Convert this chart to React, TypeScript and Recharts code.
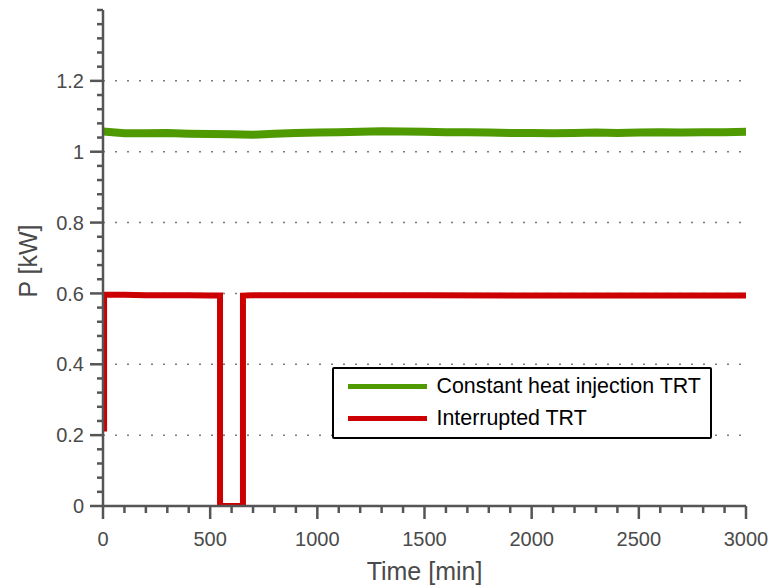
import React from 'react';
import { LineChart, Line, XAxis, YAxis, ReferenceLine, Legend, Label } from 'recharts';

// constant heat injection TRT, sampled every 100 min
const GREEN_TIME = [0, 100, 200, 300, 400, 500, 600, 700, 800, 900, 1000, 1100, 1200, 1300, 1400, 1500,
  1600, 1700, 1800, 1900, 2000, 2100, 2200, 2300, 2400, 2500, 2600, 2700, 2800, 2900, 3000];
const GREEN_P = [1.057, 1.052, 1.052, 1.053, 1.051, 1.05, 1.049, 1.048, 1.051, 1.053, 1.054, 1.055, 1.056,
  1.058, 1.057, 1.056, 1.055, 1.055, 1.054, 1.053, 1.053, 1.052, 1.053, 1.054, 1.053, 1.054, 1.055, 1.054,
  1.055, 1.055, 1.056];

// interrupted TRT, with the heating pause
const RED_TIME = [5, 5, 100, 200, 300, 400, 500, 546, 546, 653, 653, 700, 1000, 1500, 2000, 2500, 3000];
const RED_P = [0.21, 0.596, 0.596, 0.595, 0.595, 0.595, 0.594, 0.594, 0, 0, 0.594, 0.595, 0.595, 0.595,
  0.594, 0.594, 0.594];

const X_LABELS = [0, 500, 1000, 1500, 2000, 2500, 3000];
const Y_LABELS = [0, 0.2, 0.4, 0.6, 0.8, 1, 1.2];
const GRID_Y = [0.2, 0.4, 0.6, 0.8, 1, 1.2];

const SERIES_NAMES = ['Constant heat injection TRT', 'Interrupted TRT'];
const COLORS = ['#4e9a00', '#cc0000'];

const FONT = '"Liberation Sans", Arial, Helvetica, sans-serif';
const AXIS = '#555555';
const TEXT = '#4a4a4a';

const greenData = GREEN_TIME.map((t, i) => ({ t, p: GREEN_P[i] }));
const redData = RED_TIME.map((t, i) => ({ t, p: RED_P[i] }));

// minor ticks: every 100 min on x, every 0.04 kW on y
const X_TICKS: number[] = [];
for (let i = 0; i <= 30; i++) X_TICKS.push(i * 100);
const Y_TICKS: number[] = [];
for (let i = 0; i <= 35; i++) Y_TICKS.push(Math.round(i * 4) / 100);

const isXMajor = (v: number) => X_LABELS.includes(v);
const isYMajor = (v: number) => Y_LABELS.some((l) => Math.abs(l - v) < 1e-6);

const XTick = (props: any) => {
  const { x, y, payload } = props;
  const major = isXMajor(payload.value);
  return (
    <g>
      <line x1={x} x2={x} y1={y} y2={y + (major ? 13 : 7)} stroke={AXIS} strokeWidth={2.5} />
      {major && (
        <text x={x} y={y + 40} textAnchor="middle" fill={TEXT} fontSize={20} fontFamily={FONT}>
          {payload.value}
        </text>
      )}
    </g>
  );
};

const YTick = (props: any) => {
  const { x, y, payload } = props;
  const major = isYMajor(payload.value);
  return (
    <g>
      <line x1={x - (major ? 13 : 6)} x2={x} y1={y} y2={y} stroke={AXIS} strokeWidth={2.5} />
      {major && (
        <text x={x - 19} y={y} dy="0.36em" textAnchor="end" fill={TEXT} fontSize={20} fontFamily={FONT}>
          {String(Math.round(payload.value * 100) / 100)}
        </text>
      )}
    </g>
  );
};

const LegendBox = (props: any) => {
  const { payload } = props;
  return (
    <div
      style={{
        position: 'relative',
        width: 380,
        height: 72,
        boxSizing: 'border-box',
        border: '2.5px solid #000',
        borderRadius: 2,
        background: '#fff',
        fontFamily: FONT,
        fontSize: 21.4,
        color: '#000',
      }}
    >
      {(payload || []).map((entry: any, i: number) => (
        <div
          key={entry.value}
          style={{ position: 'absolute', left: 13.5, top: 1.5 + i * 32, height: 32, display: 'flex', alignItems: 'center', whiteSpace: 'nowrap' }}
        >
          <span style={{ display: 'inline-block', width: 79, height: 5, background: entry.color }} />
          <span style={{ marginLeft: 10 }}>{entry.value}</span>
        </div>
      ))}
    </div>
  );
};

export default function App() {
  return (
    <div style={{ position: 'absolute', left: 0, top: 0, background: '#fff' }}>
      <LineChart width={770} height={588} margin={{ top: 10, right: 24, bottom: 0, left: 0 }}>
        <XAxis
          type="number"
          dataKey="t"
          domain={[0, 3000]}
          ticks={X_TICKS}
          interval={0}
          tick={XTick}
          tickLine={false}
          tickSize={0}
          tickMargin={0}
          height={82}
          axisLine={{ stroke: AXIS, strokeWidth: 2.5 }}
          allowDataOverflow
        >
          <Label
            content={(p: any) => (
              <text
                x={p.viewBox.x + p.viewBox.width / 2}
                y={p.viewBox.y + 74}
                textAnchor="middle"
                fill={TEXT}
                fontSize={25}
                fontFamily={FONT}
              >
                Time [min]
              </text>
            )}
          />
        </XAxis>
        <YAxis
          type="number"
          domain={[0, 1.4]}
          ticks={Y_TICKS}
          interval={0}
          tick={YTick}
          tickLine={false}
          tickSize={0}
          tickMargin={0}
          width={103}
          axisLine={{ stroke: AXIS, strokeWidth: 2.5 }}
          allowDataOverflow
        >
          <Label
            content={(p: any) => {
              const cx = 37;
              const cy = p.viewBox.y + p.viewBox.height / 2 + 3;
              return (
                <text
                  x={cx}
                  y={cy}
                  transform={`rotate(-90 ${cx} ${cy})`}
                  textAnchor="middle"
                  fill={TEXT}
                  fontSize={25}
                  fontFamily={FONT}
                >
                  P [kW]
                </text>
              );
            }}
          />
        </YAxis>
        {GRID_Y.map((v) => (
          <ReferenceLine key={v} y={v} stroke="#7a7a7a" strokeWidth={1.5} strokeDasharray="2 10" />
        ))}
        <Line
          data={greenData}
          dataKey="p"
          name={SERIES_NAMES[0]}
          stroke={COLORS[0]}
          strokeWidth={8}
          dot={false}
          activeDot={false}
          type="linear"
          isAnimationActive={false}
        />
        <Line
          data={redData}
          dataKey="p"
          name={SERIES_NAMES[1]}
          stroke={COLORS[1]}
          strokeWidth={6}
          strokeLinejoin="miter"
          dot={false}
          activeDot={false}
          type="linear"
          isAnimationActive={false}
        />
        <Legend
          layout="vertical"
          align="center"
          verticalAlign="middle"
          content={LegendBox}
          wrapperStyle={{ left: 332, top: 367, width: 380, height: 72 }}
        />
      </LineChart>
    </div>
  );
}
